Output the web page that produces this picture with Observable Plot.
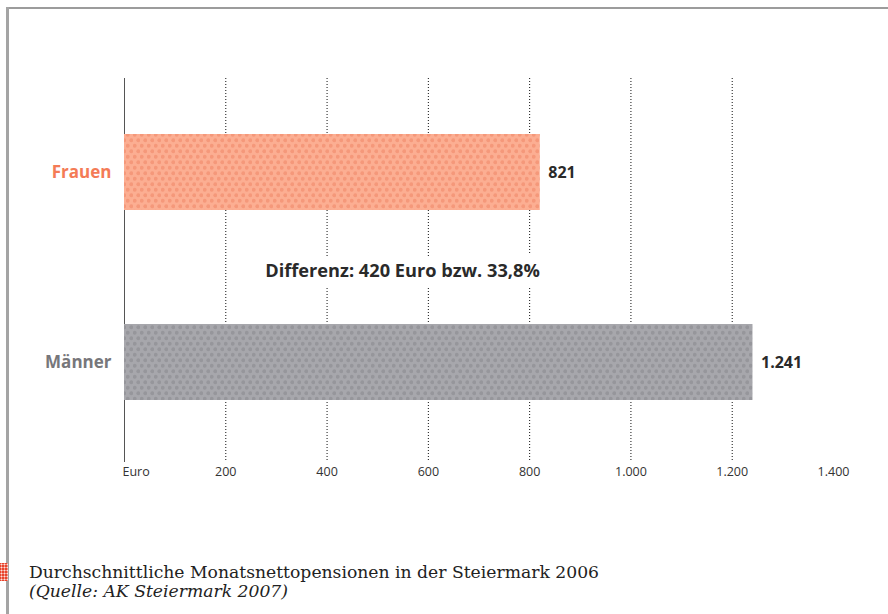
<!DOCTYPE html>
<html>
<head>
<meta charset="utf-8">
<script src="https://cdn.jsdelivr.net/npm/d3@7"></script>
<script src="https://cdn.jsdelivr.net/npm/@observablehq/plot@0.6"></script>
<style>
  html, body { margin: 0; padding: 0; background: #fff; width: 888px; height: 614px; overflow: hidden; }
  #frameTop { position: absolute; left: 6px; top: 7px; width: 882px; height: 2px; background: #9c9c9c; }
  #frameLeft { position: absolute; left: 6px; top: 7px; width: 3px; height: 607px; background: #a4a4a4; }
  #chart { position: absolute; left: 0; top: 0; }
  #icon { position: absolute; left: 0; top: 563px; width: 8px; height: 18px; background: #e8432c;
          background-image: radial-gradient(circle, rgba(255,255,255,0.85) 0.8px, transparent 1.2px);
          background-size: 3px 3px; }
  #caption { position: absolute; left: 29px; top: 563px; font-family: "DejaVu Serif", serif; font-size: 17.2px; line-height: 19px; color: #222; }
  #caption .src { font-style: italic; }
</style>
</head>
<body>
<div id="frameTop"></div>
<div id="frameLeft"></div>
<div id="chart"></div>
<div id="icon"></div>
<div id="caption">
  <div>Durchschnittliche Monatsnettopensionen in der Steiermark 2006</div>
  <div class="src">(Quelle: AK Steiermark 2007)</div>
</div>
<script>
const categories = ["Frauen", "Männer"];
const values = [821, 1241];
const valueLabels = ["821", "1.241"];
const categoryColors = ["#f47b56", "#77777b"];
const ticks = [0, 200, 400, 600, 800, 1000, 1200, 1400];
const tickLabels = ["Euro", "200", "400", "600", "800", "1.000", "1.200", "1.400"];
const gridValues = [200, 400, 600, 800, 1000, 1200];
const annotation = "Differenz: 420 Euro bzw. 33,8%";
const annotationX = 549;

const data = categories.map((c, i) => ({category: c, value: values[i], label: valueLabels[i], color: categoryColors[i], pattern: i === 0 ? "url(#dotsOrange)" : "url(#dotsGray)"}));
const tickData = ticks.map((t, i) => ({t, label: tickLabels[i]}));

const font = "'Open Sans', 'Noto Sans', sans-serif";

const chart = Plot.plot({
  width: 888,
  height: 500,
  marginLeft: 124,
  marginRight: 55,
  marginTop: 78,
  marginBottom: 38,
  style: {fontFamily: font, background: "transparent", overflow: "visible"},
  x: {domain: [0, 1400], axis: null},
  y: {type: "band", domain: categories, range: [77, 457], paddingInner: 0.6, paddingOuter: 0.3, axis: null},
  marks: [
    Plot.ruleX(gridValues, {stroke: "#111", strokeWidth: 1, strokeDasharray: "1,2"}),
    Plot.ruleX([0], {stroke: "#555", strokeWidth: 1}),
    Plot.barX(data, {y: "category", x: "value", fill: "pattern"}),
    Plot.text(data, {y: "category", x: "value", text: "label", textAnchor: "start", dx: 8, fontSize: 16, fontWeight: "bold", fill: "#2a2a2a"}),
    Plot.text(data, {y: "category", x: 0, text: "category", textAnchor: "end", dx: -13, fontSize: 17, fontWeight: "bold", fill: "color"}),
    Plot.text([annotation], {x: annotationX, y: () => categories[0], dy: 99, text: d => d, fontSize: 18.2, fontWeight: "bold", fill: "#2a2a2a", stroke: "white", strokeWidth: 22, paintOrder: "stroke", strokeLinejoin: "miter"}),
    Plot.text(tickData.filter(d => d.t === 0), {x: "t", text: "label", frameAnchor: "bottom", dy: 13, dx: -2, textAnchor: "start", fontSize: 12.5, fill: "#333"}),
    Plot.text(tickData.filter(d => d.t !== 0), {x: "t", text: "label", frameAnchor: "bottom", dy: 13, textAnchor: "middle", fontSize: 12.5, fill: "#333"})
  ]
});

// dot pattern definitions for bar fills
const ns = "http://www.w3.org/2000/svg";
const defs = document.createElementNS(ns, "defs");
function makePattern(id, base, dot) {
  const p = document.createElementNS(ns, "pattern");
  p.setAttribute("id", id);
  p.setAttribute("patternUnits", "userSpaceOnUse");
  p.setAttribute("width", "7");
  p.setAttribute("height", "11");
  const r = document.createElementNS(ns, "rect");
  r.setAttribute("width", "7"); r.setAttribute("height", "11"); r.setAttribute("fill", base);
  p.appendChild(r);
  [[1.75, 2.75], [5.25, 8.25]].forEach(([cx, cy]) => {
    const c = document.createElementNS(ns, "circle");
    c.setAttribute("cx", cx); c.setAttribute("cy", cy); c.setAttribute("r", 1.9);
    c.setAttribute("fill", dot);
    p.appendChild(c);
  });
  defs.appendChild(p);
}
makePattern("dotsOrange", "#fcae92", "#f5987a");
makePattern("dotsGray", "#a7a7ac", "#96969b");
chart.insertBefore(defs, chart.firstChild);

document.getElementById("chart").appendChild(chart);
</script>
</body>
</html>
